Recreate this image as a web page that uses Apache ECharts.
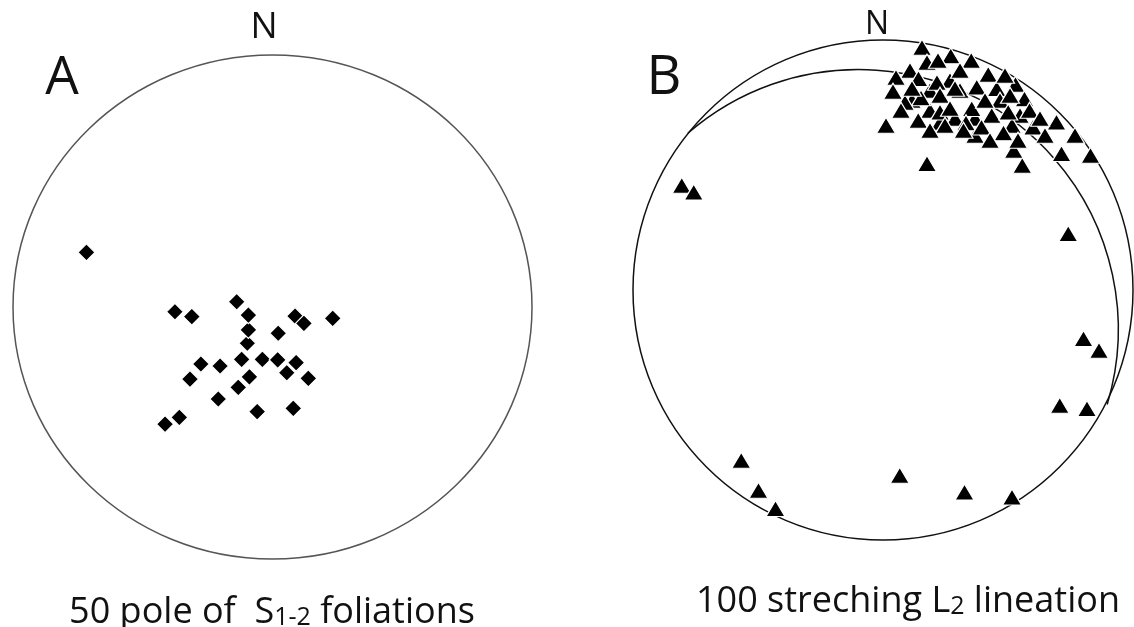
<!DOCTYPE html>
<html>
<head>
<meta charset="utf-8">
<script src="https://cdn.jsdelivr.net/npm/echarts@6/dist/echarts.min.js"></script>
<style>
html,body{margin:0;padding:0;background:#fff;}
#chart{width:1134px;height:627px;}
</style>
</head>
<body>
<div id="chart"></div>
<script>
// Stereonet coordinates: x = east, y = north, unit radius = primitive circle
const polesS12 = [
  [-0.717, 0.217],
  [-0.376, -0.019], [-0.311, -0.038], [-0.138, 0.021],
  [-0.097, -0.144], [-0.093, -0.091], [-0.093, -0.032],
  [0.022, -0.104], [0.087, -0.036], [0.121, -0.065], [0.232, -0.045],
  [-0.276, -0.226], [-0.202, -0.234], [-0.119, -0.208], [-0.039, -0.208],
  [0.020, -0.210], [0.091, -0.221], [0.055, -0.261], [0.138, -0.283],
  [-0.318, -0.286], [-0.089, -0.277], [-0.132, -0.319], [-0.209, -0.365],
  [-0.059, -0.415], [0.080, -0.402], [-0.359, -0.438], [-0.414, -0.465]
];

const lineationsL2 = [
  // outliers
  [-0.805, 0.419], [-0.757, 0.392], [0.741, 0.226], [0.802, -0.194], [0.864, -0.241],
  [0.707, -0.461], [0.816, -0.474], [-0.567, -0.681], [-0.498, -0.801], [-0.430, -0.874],
  [0.067, -0.741], [0.326, -0.808], [0.516, -0.828],
  // cluster margin
  [0.176, 0.506], [0.557, 0.499], [0.523, 0.559], [0.714, 0.546], [0.830, 0.539],
  [0.768, 0.619], [0.694, 0.672], [0.012, 0.659],
  // dense cluster
  [0.188, 0.799], [0.268, 0.839], [0.548, 0.699], [0.368, 0.687], [0.288, 0.687],
  [0.188, 0.719], [0.116, 0.759], [0.516, 0.659], [0.228, 0.671], [0.368, 0.619],
  [0.108, 0.879],
  [0.156, 0.971], [0.271, 0.937], [0.353, 0.919], [0.176, 0.911], [0.308, 0.879],
  [0.421, 0.863], [0.052, 0.851], [0.142, 0.846], [0.216, 0.831], [0.040, 0.795],
  [0.152, 0.769], [0.308, 0.799], [0.375, 0.812], [0.455, 0.806], [0.530, 0.823],
  [0.088, 0.751], [0.072, 0.719], [0.228, 0.712], [0.355, 0.726], [0.468, 0.759],
  [0.566, 0.765], [0.141, 0.679], [0.332, 0.669], [0.435, 0.699], [0.501, 0.712],
  [0.586, 0.719], [0.322, 0.639], [0.394, 0.652], [0.482, 0.629], [0.600, 0.652],
  [0.228, 0.779], [0.268, 0.727], [0.408, 0.759], [0.508, 0.779], [0.248, 0.659],
  [0.188, 0.639], [0.628, 0.687], [0.540, 0.599], [0.428, 0.599], [0.288, 0.807],
  [0.488, 0.859], [0.220, 0.919], [0.116, 0.807], [0.648, 0.619]
];

// primitive circle: [centerX, centerY, radius]
const primitiveCircle = [[0, 0, 1]];
// great circle arc: [centerX, centerY, radius, startAngleDeg, endAngleDeg]
const greatCircleArc = [[-0.0985, -0.1577, 1.0396, 131.0, -16.8]];

const labelsTop = { north: 'N', panelA: 'A', panelB: 'B' };
const captionA = ['50 pole of  S', '1-2', ' foliations'];
const captionB = ['100 streching L', '2', ' lineation'];

const chart = echarts.init(document.getElementById('chart'), null, { renderer: 'canvas' });

function primitiveRender(color, lw) {
  return function (params, api) {
    const c = api.coord([api.value(0), api.value(1)]);
    const s = api.size([api.value(2), api.value(2)]);
    return {
      type: 'ellipse',
      shape: { cx: c[0], cy: c[1], rx: s[0], ry: s[1] },
      style: { fill: 'none', stroke: color, lineWidth: lw }
    };
  };
}

function arcRender(params, api) {
  const c = api.coord([api.value(0), api.value(1)]);
  const s = api.size([api.value(2), api.value(2)]);
  const r = (s[0] + s[1]) / 2;
  return {
    type: 'arc',
    shape: {
      cx: c[0], cy: c[1], r: r,
      startAngle: -api.value(3) * Math.PI / 180,
      endAngle: -api.value(4) * Math.PI / 180,
      clockwise: true
    },
    style: { fill: 'none', stroke: '#111', lineWidth: 1.5 }
  };
}

const fontFam = '"Open Sans", "Noto Sans", sans-serif';

const axisBase = { type: 'value', min: -1, max: 1, show: false };

const option = {
  animation: false,
  backgroundColor: '#ffffff',
  grid: [
    { left: 13, top: 55, width: 519, height: 504 },
    { left: 633, top: 40, width: 500, height: 500 }
  ],
  xAxis: [
    Object.assign({ gridIndex: 0 }, axisBase),
    Object.assign({ gridIndex: 1 }, axisBase)
  ],
  yAxis: [
    Object.assign({ gridIndex: 0 }, axisBase),
    Object.assign({ gridIndex: 1 }, axisBase)
  ],
  graphic: [
    { type: 'text', x: 264, y: 28, style: { text: labelsTop.north, font: '36px ' + fontFam, fill: '#111', align: 'center', verticalAlign: 'middle' } },
    { type: 'text', x: 877, y: 25, style: { text: labelsTop.north, font: '32px ' + fontFam, fill: '#111', align: 'center', verticalAlign: 'middle' } },
    { type: 'text', x: 62, y: 79, style: { text: labelsTop.panelA, font: '53px ' + fontFam, fill: '#111', align: 'center', verticalAlign: 'middle' } },
    { type: 'text', x: 664, y: 79, style: { text: labelsTop.panelB, font: '54px ' + fontFam, fill: '#111', align: 'center', verticalAlign: 'middle' } },
    { type: 'text', x: 272, y: 613, style: {
        text: captionA[0] + '{s|' + captionA[1] + '}' + captionA[2],
        font: '36px ' + fontFam, fill: '#111', align: 'center', verticalAlign: 'middle',
        rich: { s: { fontSize: 25, fontFamily: 'Open Sans', fill: '#111', padding: [10, 0, 0, 0] } }
    } },
    { type: 'text', x: 908, y: 602, style: {
        text: captionB[0] + '{s|' + captionB[1] + '}' + captionB[2],
        font: '36px ' + fontFam, fill: '#111', align: 'center', verticalAlign: 'middle',
        rich: { s: { fontSize: 25, fontFamily: 'Open Sans', fill: '#111', padding: [10, 0, 0, 0] } }
    } }
  ],
  series: [
    {
      type: 'custom', xAxisIndex: 0, yAxisIndex: 0, silent: true, z: 1,
      renderItem: primitiveRender('#555', 1.5), data: primitiveCircle
    },
    {
      type: 'scatter', xAxisIndex: 0, yAxisIndex: 0, z: 3,
      symbol: 'diamond', symbolSize: 17,
      itemStyle: { color: '#000', borderColor: '#fff', borderWidth: 1.2, opacity: 1 },
      data: polesS12
    },
    {
      type: 'custom', xAxisIndex: 1, yAxisIndex: 1, silent: true, z: 1,
      renderItem: primitiveRender('#111', 1.5), data: primitiveCircle
    },
    {
      type: 'custom', xAxisIndex: 1, yAxisIndex: 1, silent: true, z: 1,
      renderItem: arcRender, data: greatCircleArc
    },
    {
      type: 'scatter', xAxisIndex: 1, yAxisIndex: 1, z: 3,
      symbol: 'triangle', symbolSize: [19, 16],
      itemStyle: { color: '#000', borderColor: '#fff', borderWidth: 1.2, opacity: 1 },
      data: lineationsL2
    }
  ]
};

chart.setOption(option);
</script>
</body>
</html>
